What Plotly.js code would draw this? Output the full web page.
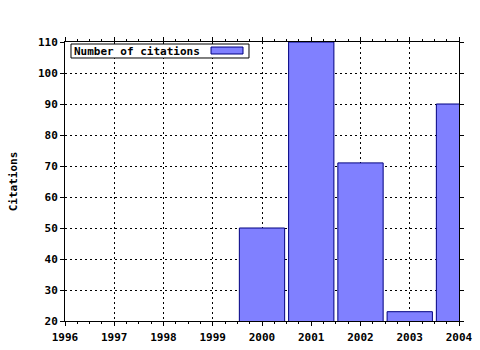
<!DOCTYPE html>
<html>
<head>
<meta charset="utf-8">
<script src="https://cdn.plot.ly/plotly-3.0.1.min.js"></script>
<style>html,body{margin:0;padding:0;background:#fff}#chart{width:480px;height:350px}</style>
</head>
<body>
<div id="chart"></div>
<script>
const years = [2000, 2001, 2002, 2003, 2004];
const citations = [50, 110, 71, 23, 90];
const seriesName = "Number of citations";
const yTitle = "Citations";

const F = {family: "DejaVu Sans Mono, Liberation Mono, monospace", size: 11, color: "#000", weight: "bold"};

const trace = {
  type: "bar", x: years, y: citations, name: seriesName, width: 0.92,
  marker: {color: "#8080ff", line: {color: "#000080", width: 1}},
  showlegend: false, hoverinfo: "skip"
};

const axisCommon = {
  showline: true, linecolor: "#000", linewidth: 1, mirror: "ticks",
  ticks: "outside", ticklen: 4, tickcolor: "#000", tickwidth: 1,
  showgrid: true, gridcolor: "#000", gridwidth: 1, griddash: "2px,3px",
  zeroline: false, tickfont: F, fixedrange: true
};

const layout = {
  width: 480, height: 350,
  margin: {l: 65, r: 21, t: 42, b: 29},
  paper_bgcolor: "#fff", plot_bgcolor: "#fff",
  font: F,
  bargap: 0,
  xaxis: Object.assign({}, axisCommon, {
    range: [1996, 2004], dtick: 1, tick0: 1996, ticklabelstandoff: 2,
    minor: {dtick: 0.25, ticks: "outside", ticklen: 2, tickcolor: "#000", showgrid: false}
  }),
  yaxis: Object.assign({}, axisCommon, {
    range: [20, 110], dtick: 10, tick0: 20,
    title: {text: yTitle, font: F, standoff: 18}
  }),
  shapes: [
    {type: "rect", xref: "paper", yref: "paper", x0: 0.0152, x1: 0.467, y0: 0.9427, y1: 0.9928,
     fillcolor: "#fff", line: {color: "#000", width: 1}, layer: "above"},
    {type: "rect", xref: "paper", yref: "paper", x0: 0.3706, x1: 0.4518, y0: 0.957, y1: 0.982,
     fillcolor: "#8080ff", line: {color: "#000080", width: 1}, layer: "above"}
  ],
  annotations: [
    {xref: "paper", yref: "paper", x: 0.0175, y: 0.9677, xanchor: "left", yanchor: "middle",
     text: seriesName, showarrow: false, font: F}
  ]
};

Plotly.newPlot("chart", [trace], layout, {displayModeBar: false, staticPlot: true});
</script>
</body>
</html>
